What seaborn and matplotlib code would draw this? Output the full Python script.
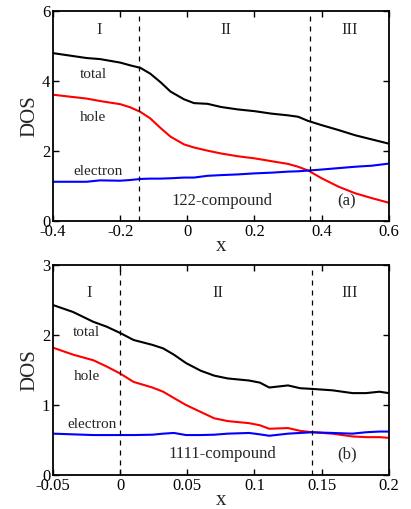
import matplotlib
matplotlib.use("Agg")
import matplotlib.pyplot as plt
import pandas as pd
import seaborn as sns

# panel (a): 122-compound
xa = [-0.4, -0.3, -0.26, -0.2, -0.17, -0.14, -0.11, -0.08, -0.05, -0.01, 0.02, 0.06,
      0.1, 0.15, 0.2, 0.25, 0.3, 0.33, 0.36, 0.4, 0.45, 0.5, 0.55, 0.6]
total_a = [4.80, 4.66, 4.63, 4.53, 4.45, 4.38, 4.21, 3.97, 3.70, 3.48, 3.37, 3.35,
           3.26, 3.19, 3.14, 3.07, 3.02, 2.98, 2.86, 2.74, 2.60, 2.45, 2.33, 2.21]
hole_a = [3.61, 3.50, 3.43, 3.34, 3.25, 3.12, 2.93, 2.66, 2.41, 2.19, 2.10, 2.01,
          1.93, 1.85, 1.79, 1.71, 1.63, 1.55, 1.44, 1.22, 0.98, 0.79, 0.65, 0.52]
elec_a = [1.12, 1.12, 1.16, 1.15, 1.17, 1.20, 1.21, 1.21, 1.22, 1.24, 1.24, 1.29,
          1.31, 1.33, 1.36, 1.38, 1.41, 1.42, 1.44, 1.47, 1.51, 1.55, 1.58, 1.64]

# panel (b): 1111-compound
xb = [-0.05, -0.035, -0.02, -0.01, 0.0, 0.01, 0.024, 0.032, 0.04, 0.049, 0.06,
      0.07, 0.08, 0.096, 0.104, 0.111, 0.125, 0.134, 0.143, 0.158, 0.173, 0.183,
      0.193, 0.2]
total_b = [2.43, 2.33, 2.19, 2.12, 2.03, 1.93, 1.86, 1.81, 1.72, 1.60, 1.49,
           1.42, 1.38, 1.35, 1.32, 1.25, 1.28, 1.24, 1.23, 1.21, 1.17, 1.17,
           1.19, 1.17]
hole_b = [1.82, 1.72, 1.64, 1.55, 1.45, 1.33, 1.25, 1.19, 1.10, 1.00, 0.90,
          0.81, 0.77, 0.74, 0.71, 0.66, 0.67, 0.63, 0.61, 0.59, 0.55, 0.54,
          0.54, 0.53]
elec_b = [0.59, 0.58, 0.57, 0.57, 0.57, 0.57, 0.575, 0.59, 0.60, 0.57, 0.57,
          0.575, 0.59, 0.60, 0.58, 0.56, 0.59, 0.60, 0.61, 0.60, 0.59, 0.61,
          0.62, 0.62]

sns.set_style("ticks")
plt.rcParams['font.family'] = ['Liberation Serif', 'DejaVu Serif']

fig = plt.figure(figsize=(4.11, 5.09), dpi=100)
ax1 = fig.add_axes([0.129, 0.566, 0.817, 0.412])
ax2 = fig.add_axes([0.129, 0.067, 0.817, 0.412])

def draw(ax, x, total, hole, elec):
    df = pd.DataFrame({'x': x, 'total': total, 'hole': hole, 'electron': elec})
    sns.lineplot(data=df, x='x', y='total', color='black', lw=1.5, ax=ax)
    sns.lineplot(data=df, x='x', y='hole', color='red', lw=1.5, ax=ax)
    sns.lineplot(data=df, x='x', y='electron', color='blue', lw=1.5, ax=ax)

draw(ax1, xa, total_a, hole_a, elec_a)
draw(ax2, xb, total_b, hole_b, elec_b)

for ax, xl, yl, xt, yt, bounds in [
        (ax1, (-0.4, 0.6), (0, 6), [-0.4, -0.2, 0, 0.2, 0.4, 0.6], [0, 2, 4, 6], (-0.145, 0.364)),
        (ax2, (-0.05, 0.2), (0, 3), [-0.05, 0, 0.05, 0.1, 0.15, 0.2], [0, 1, 2, 3], (0.0, 0.143))]:
    ax.set_xlim(*xl)
    ax.set_ylim(*yl)
    ax.set_xticks(xt)
    ax.set_xticklabels([f"{v:g}" for v in xt])
    ax.set_yticks(yt)
    ax.tick_params(direction='in', top=True, right=True, length=4, width=1,
                   labelsize=12, pad=2, colors='black')
    for s in ax.spines.values():
        s.set_linewidth(1.3)
        s.set_color('black')
    for b in bounds:
        ax.axvline(b, color='black', lw=0.9, ls=(0, (4, 4)))
    ax.set_xlabel('x', fontsize=15, labelpad=-2)
    ax.set_ylabel('DOS', fontsize=15, labelpad=2)

ax1.text(-0.264, 5.47, 'I', fontsize=12, ha='center', va='center')
ax1.text(0.116, 5.47, 'II', fontsize=12, ha='center', va='center')
ax1.text(0.483, 5.47, 'III', fontsize=12, ha='center', va='center')
ax1.text(-0.279, 4.19, 'total', fontsize=11, ha='center', va='center')
ax1.text(-0.28, 2.96, 'hole', fontsize=11, ha='center', va='center')
ax1.text(-0.266, 1.41, 'electron', fontsize=11, ha='center', va='center')
ax1.text(0.104, 0.57, '122-compound', fontsize=12, ha='center', va='center')
ax1.text(0.475, 0.57, '(a)', fontsize=12, ha='center', va='center')

ax2.text(-0.023, 2.6, 'I', fontsize=12, ha='center', va='center')
ax2.text(0.073, 2.6, 'II', fontsize=12, ha='center', va='center')
ax2.text(0.171, 2.6, 'III', fontsize=12, ha='center', va='center')
ax2.text(-0.025, 2.03, 'total', fontsize=11, ha='center', va='center')
ax2.text(-0.025, 1.41, 'hole', fontsize=11, ha='center', va='center')
ax2.text(-0.021, 0.72, 'electron', fontsize=11, ha='center', va='center')
ax2.text(0.076, 0.30, '1111-compound', fontsize=12, ha='center', va='center')
ax2.text(0.169, 0.30, '(b)', fontsize=12, ha='center', va='center')

fig.savefig('out.png', dpi=100)
